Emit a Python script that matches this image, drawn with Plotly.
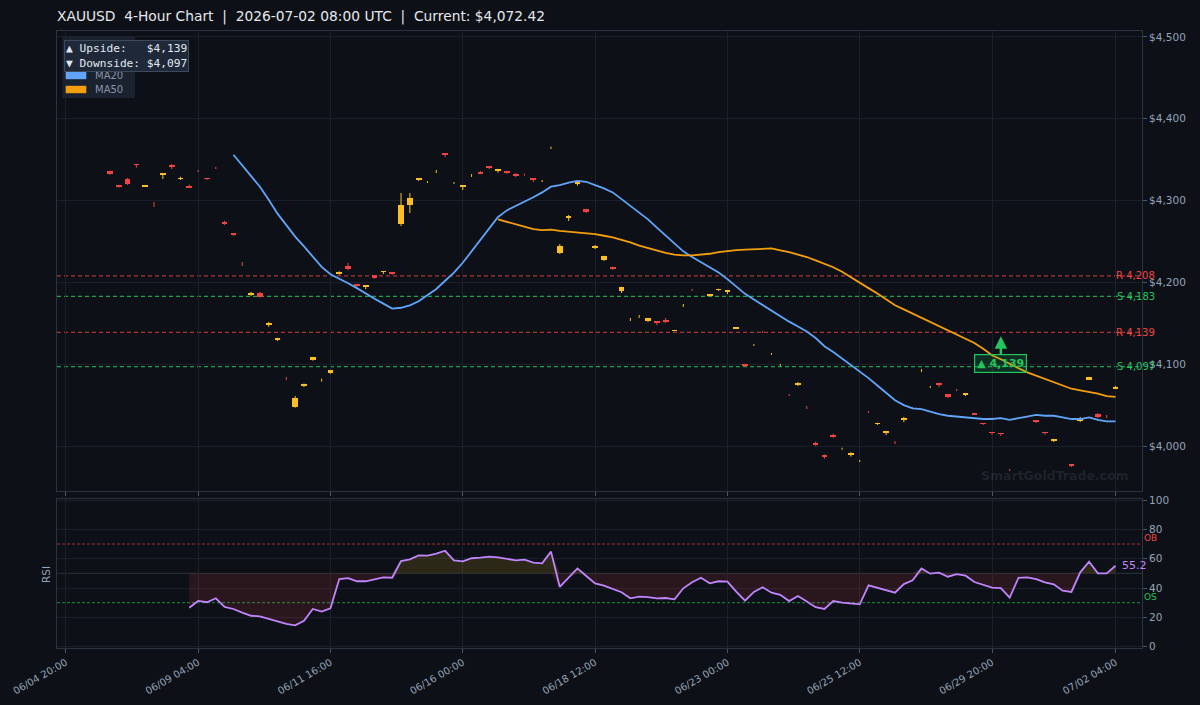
import plotly.graph_objects as go
from plotly.subplots import make_subplots

# ---------------- DATA ----------------
tick_idx = [0, 15, 30, 45, 60, 75, 90, 105, 119]
tick_text = ["06/04 20:00", "06/09 04:00", "06/11 16:00", "06/16 00:00", "06/18 12:00",
             "06/23 00:00", "06/25 12:00", "06/29 20:00", "07/02 04:00"]
price_ticks = [4000, 4100, 4200, 4300, 4400, 4500]
price_tick_text = ["$4,000", "$4,100", "$4,200", "$4,300", "$4,400", "$4,500"]
rsi_ticks = [0, 20, 40, 60, 80, 100]

N = None
opens = [N, N, N, N, N,
 4336.2, 4319.1, 4326.0, 4344.7, 4317.8, 4295.3, 4331.7, 4342.7, 4326.4, 4317.8,
 4336.3, 4327.6, 4340.0, 4273.8, 4259.5, 4222.6, 4185.8, 4187.0, 4148.8, 4129.6,
 4082.6, 4048.0, 4074.0, 4105.1, 4080.4, 4089.6, 4210.5, 4220.4, 4198.0, 4195.2,
 4208.7, 4212.7, 4211.5, 4271.4, 4294.6, 4325.3, 4322.6, 4335.4, 4357.0, 4321.4,
 4317.0, 4330.6, 4335.0, 4341.1, 4336.6, 4335.0, 4332.5, 4331.7, 4326.4, 4323.9,
 4364.4, 4235.9, 4279.1, 4321.1, 4289.7, 4242.4, 4227.4, 4218.0, 4189.5, 4154.5,
 4158.2, 4152.8, 4151.9, 4154.0, 4140.6, 4171.6, 4190.8, 4208.3, 4183.4, 4190.7,
 4188.3, 4143.9, 4100.3, 4123.4, 4139.5, 4112.4, 4098.9, 4062.5, 4075.4, 4047.1,
 4003.7, 3989.4, 4013.4, 3996.6, 3989.4, 3981.5, 4041.6, 4026.9, 4015.9, 4004.3,
 4031.8, 4046.5, 4092.2, 4072.0, 4077.0, 4063.6, 4068.5, 4062.4, 4040.3, 4028.1,
 4017.1, 4015.9, 3970.7, 4034.3, 4035.5, 4030.6, 4017.1, 4006.1, N, 3976.8,
 4031.5, 4081.9, 4039.1, 4036.1, 4070.2]
highs = [N, N, N, N, N,
 4336.5, 4319.3, 4327.6, 4344.9, 4319.2, 4298.3, 4333.0, 4344.7, 4329.2, 4319.5,
 4337.4, 4327.8, 4341.1, 4275.4, 4259.7, 4224.9, 4188.3, 4188.3, 4151.6, 4132.2,
 4084.3, 4061.1, 4076.2, 4108.9, 4082.3, 4093.0, 4213.5, 4223.7, 4198.2, 4196.5,
 4208.9, 4214.0, 4211.7, 4309.3, 4309.3, 4326.5, 4323.9, 4337.4, 4357.2, 4322.7,
 4319.1, 4332.5, 4336.2, 4342.3, 4338.8, 4335.2, 4333.7, 4332.9, 4326.6, 4325.2,
 4365.9, 4246.9, 4282.4, 4322.8, 4289.9, 4245.7, 4232.5, 4219.2, 4194.6, 4156.5,
 4160.1, 4156.7, 4152.1, 4156.5, 4142.0, 4173.6, 4191.9, 4209.4, 4184.8, 4192.1,
 4189.7, 4145.3, 4100.5, 4124.7, 4140.6, 4113.7, 4100.3, 4063.6, 4078.2, 4048.9,
 4005.3, 3989.6, 4015.0, 3997.9, 3992.3, 3982.9, 4042.8, 4028.3, 4018.5, 4006.1,
 4035.5, 4047.7, 4094.1, 4073.4, 4077.2, 4063.8, 4069.7, 4063.8, 4040.5, 4028.3,
 4017.3, 4016.1, 3971.9, 4035.5, 4036.7, 4030.8, 4017.3, 4008.8, N, 3977.0,
 4035.5, 4084.5, 4040.3, 4037.9, 4073.6]
lows = [N, N, N, N, N,
 4331.7, 4315.8, 4319.1, 4340.2, 4316.6, 4292.2, 4326.4, 4338.6, 4325.2, 4315.4,
 4335.0, 4325.2, 4338.6, 4270.2, 4257.1, 4220.0, 4183.4, 4181.3, 4145.8, 4128.4,
 4080.7, 4046.8, 4072.1, 4104.3, 4078.6, 4088.4, 4209.5, 4214.8, 4194.4, 4191.6,
 4204.5, 4210.3, 4209.1, 4268.9, 4284.8, 4324.0, 4321.5, 4333.7, 4353.3, 4320.3,
 4313.0, 4328.9, 4332.5, 4338.6, 4334.1, 4332.5, 4328.9, 4330.4, 4322.7, 4322.7,
 4363.1, 4234.7, 4275.1, 4318.2, 4284.8, 4240.8, 4226.2, 4215.2, 4187.0, 4152.8,
 4156.5, 4151.6, 4147.9, 4150.4, 4140.4, 4169.9, 4189.5, 4207.0, 4183.2, 4189.5,
 4185.8, 4143.0, 4096.6, 4122.3, 4138.1, 4111.3, 4097.8, 4061.1, 4073.4, 4045.2,
 4000.4, 3984.5, 4010.1, 3995.5, 3987.0, 3980.4, 4040.3, 4025.7, 4013.4, 4002.4,
 4029.3, 4045.2, 4090.5, 4070.9, 4072.1, 4058.7, 4067.2, 4061.1, 4037.9, 4025.7,
 4013.8, 4012.2, 3969.4, 4033.0, 4034.2, 4028.1, 4013.8, 4004.9, N, 3974.3,
 4029.3, 4080.7, 4034.2, 4034.2, 4069.7]
closes = [N, N, N, N, N,
 4332.9, 4316.6, 4320.0, 4343.6, 4319.0, 4295.1, 4332.9, 4341.4, 4327.6, 4316.6,
 4336.1, 4326.5, 4339.8, 4272.2, 4258.3, 4222.4, 4187.0, 4182.5, 4150.0, 4132.0,
 4082.4, 4059.1, 4075.2, 4108.8, 4080.6, 4092.9, 4212.5, 4216.4, 4195.6, 4196.4,
 4205.7, 4213.9, 4210.3, 4294.6, 4303.2, 4326.4, 4322.8, 4335.6, 4355.8, 4321.6,
 4318.7, 4330.8, 4333.7, 4339.9, 4338.6, 4333.8, 4330.9, 4331.5, 4325.2, 4324.1,
 4364.6, 4244.5, 4281.2, 4322.7, 4285.7, 4244.5, 4232.3, 4216.7, 4194.4, 4154.7,
 4158.4, 4156.5, 4150.4, 4151.6, 4141.8, 4171.8, 4190.6, 4208.1, 4184.6, 4191.9,
 4189.5, 4145.1, 4099.0, 4123.6, 4139.3, 4112.6, 4099.1, 4062.3, 4077.0, 4046.9,
 4002.4, 3986.6, 4011.4, 3996.8, 3990.6, 3981.7, 4041.4, 4028.1, 4018.3, 4004.1,
 4033.4, 4046.3, 4092.4, 4072.2, 4074.6, 4059.9, 4068.3, 4063.6, 4039.1, 4026.9,
 4015.9, 4014.7, 3970.5, 4034.1, 4035.3, 4029.4, 4015.9, 4008.6, N, 3975.6,
 4033.0, 4084.3, 4035.5, 4035.9, 4072.4]

ma20_start = 19
ma20 = [4356, 4343, 4330, 4317, 4301, 4284, 4270, 4256, 4244, 4231,
        4219, 4210, 4205, 4199, 4193, 4186, 4180, 4174, 4168, 4169,
        4172, 4177, 4184, 4192, 4202, 4212, 4224, 4238, 4253, 4267,
        4280, 4288, 4293, 4298, 4304, 4310, 4317, 4319, 4322, 4324,
        4323, 4319, 4315, 4310, 4302, 4294, 4286, 4277, 4267, 4257,
        4247, 4238, 4231, 4225, 4219, 4212, 4204, 4195, 4186, 4179,
        4172, 4165, 4158, 4152, 4146, 4140, 4132, 4122, 4115, 4107,
        4100, 4092, 4083, 4074, 4065, 4056, 4050, 4046, 4045, 4042,
        4039, 4037, 4036, 4035, 4034, 4033, 4033, 4034, 4032, 4034,
        4036, 4038, 4037, 4037, 4035, 4033, 4033, 4035, 4032, 4030, 4030]
ma50_start = 49
ma50 = [4277, 4274, 4271, 4268, 4265, 4264, 4264.5, 4263, 4262, 4261.5,
        4260.5, 4259, 4257, 4255, 4252, 4249, 4245, 4242, 4239, 4236,
        4234, 4233, 4233, 4234, 4235, 4237, 4238.5, 4239.5, 4240, 4240.5,
        4241, 4241.5, 4239, 4237, 4234, 4231, 4227, 4223, 4218.5, 4213,
        4206, 4199.5, 4193, 4186.5, 4179, 4172, 4167, 4162, 4157, 4151,
        4146, 4141, 4136, 4131, 4126, 4119, 4111, 4106, 4100, 4095,
        4090, 4086, 4082, 4078, 4074, 4070, 4068, 4066, 4064, 4061, 4060]
rsi_start = 14
rsi = [26.6, 31.2, 30.3, 33.0, 27.1, 25.7, 23.2, 21.1, 20.7, 18.9,
       17.5, 15.5, 14.6, 17.7, 25.7, 23.9, 26.2, 46.1, 46.8, 44.6,
       44.6, 45.9, 47.3, 47.0, 58.4, 59.6, 62.3, 62.1, 63.4, 65.4,
       58.9, 58.2, 60.3, 60.7, 61.4, 60.9, 60.0, 58.9, 59.3, 57.3,
       56.8, 64.8, 40.7, 47.0, 53.4, 48.2, 43.2, 41.6, 39.5, 37.1,
       33.0, 34.1, 33.8, 33.0, 33.2, 32.3, 39.8, 43.9, 47.0, 43.2,
       44.6, 44.3, 37.5, 31.4, 37.3, 40.5, 36.8, 35.4, 31.1, 34.5,
       30.8, 26.9, 25.7, 31.1, 30.0, 29.6, 28.9, 41.8, 40.3, 38.5,
       36.8, 42.7, 45.2, 53.4, 49.8, 50.5, 47.7, 49.5, 48.4, 44.1,
       42.0, 40.3, 40.0, 33.4, 47.0, 47.3, 46.1, 43.9, 42.5, 38.2,
       37.3, 50.7, 58.0, 50.0, 50.0, 55.2]

level_kind = ["R", "S", "R", "S"]
level_price = [4208, 4183, 4139, 4097]
upside_target = 4139
downside_target = 4097
target_bar = 106
current_price = 4072.42
title_text = "XAUUSD\u00a0 4-Hour Chart\u00a0 |\u00a0 2026-07-02 08:00 UTC\u00a0 |\u00a0 Current: $4,072.42"

# ---------------- STYLE ----------------
BG = "#0d1117"
FRAME = "#2a3342"
GRID = "#1a202b"
TICKC = "#4b5565"
LABEL = "#94a3b8"
BULL = "#fbbf24"
BEAR = "#ef4444"
C_MA20 = "#60a5fa"
C_MA50 = "#f59e0b"
C_RSI = "#c084fc"
GREEN = "#22c55e"
FONT = "DejaVu Sans"

L_PX, R_PX, T_PX, B_PX = 57, 58, 31, 57
W, H = 1200, 705
PW = W - L_PX - R_PX
PH = H - T_PX - B_PX


def px_x(px):
    return (px - L_PX) / PW


def px_y(py):
    return (H - B_PX - py) / PH


fig = make_subplots(rows=2, cols=1, shared_xaxes=True, vertical_spacing=0.0)

# ---- candles (wicks + bodies) ----
wx = {True: [], False: []}
wy = {True: [], False: []}
bx = {True: [], False: []}
bb = {True: [], False: []}
bh = {True: [], False: []}
for i in range(len(opens)):
    o, h, l, c = opens[i], highs[i], lows[i], closes[i]
    if o is None:
        continue
    up = c >= o
    wx[up] += [i, i, None]
    wy[up] += [l, h, None]
    if abs(c - o) >= 0.5:
        bx[up].append(i)
        bb[up].append(min(o, c))
        bh[up].append(abs(c - o))

for up, col in [(True, BULL), (False, BEAR)]:
    fig.add_trace(go.Scatter(x=wx[up], y=wy[up], mode="lines", line=dict(color=col, width=1),
                             hoverinfo="skip", connectgaps=False), row=1, col=1)
for up, col in [(True, BULL), (False, BEAR)]:
    fig.add_trace(go.Bar(x=bx[up], y=bh[up], base=bb[up], width=0.65,
                         marker=dict(color=col, line=dict(width=0)), hoverinfo="skip"), row=1, col=1)

fig.add_trace(go.Scatter(x=list(range(ma20_start, ma20_start + len(ma20))), y=ma20, mode="lines",
                         line=dict(color=C_MA20, width=1.8), name="MA20"), row=1, col=1)
fig.add_trace(go.Scatter(x=list(range(ma50_start, ma50_start + len(ma50))), y=ma50, mode="lines",
                         line=dict(color=C_MA50, width=1.8), name="MA50"), row=1, col=1)

# ---- RSI ----
rx = list(range(rsi_start, rsi_start + len(rsi)))
base50 = [50] * len(rsi)
above = [max(v, 50) for v in rsi]
below = [min(v, 50) for v in rsi]
fig.add_trace(go.Scatter(x=rx, y=base50, mode="lines", line=dict(width=0), hoverinfo="skip"), row=2, col=1)
fig.add_trace(go.Scatter(x=rx, y=above, mode="lines", line=dict(width=0), fill="tonexty",
                         fillcolor="rgba(250,204,21,0.13)", hoverinfo="skip"), row=2, col=1)
fig.add_trace(go.Scatter(x=rx, y=base50, mode="lines", line=dict(width=0), hoverinfo="skip"), row=2, col=1)
fig.add_trace(go.Scatter(x=rx, y=below, mode="lines", line=dict(width=0), fill="tonexty",
                         fillcolor="rgba(239,68,68,0.13)", hoverinfo="skip"), row=2, col=1)
fig.add_trace(go.Scatter(x=rx, y=rsi, mode="lines", line=dict(color=C_RSI, width=1.8), name="RSI"),
              row=2, col=1)

# ---- axes ----
common = dict(showline=True, mirror=True, linecolor=FRAME, linewidth=1, gridcolor=GRID, gridwidth=1,
              zeroline=False, ticks="outside", ticklen=4, tickcolor=TICKC, tickwidth=1, automargin=False)
fig.update_xaxes(range=[-1, 122], tickmode="array", tickvals=tick_idx, ticktext=tick_text, **common)
fig.update_xaxes(showticklabels=False, row=1, col=1)
fig.update_xaxes(tickangle=-30, tickfont=dict(size=10, color=LABEL, family=FONT), row=2, col=1)
fig.update_yaxes(side="right", **common)
fig.update_yaxes(domain=[px_y(491), 1], range=[3945, 4507.3], tickmode="array", tickvals=price_ticks,
                 ticktext=price_tick_text, tickfont=dict(size=10.5, color=LABEL, family=FONT), row=1, col=1)
fig.update_yaxes(domain=[0, px_y(499)], range=[-0.9, 100.7], tickmode="array", tickvals=rsi_ticks,
                 tickfont=dict(size=10.5, color=LABEL, family=FONT), row=2, col=1)

shapes = []
annotations = []

# support / resistance lines
for k, p in zip(level_kind, level_price):
    col = "rgba(239,68,68,0.7)" if k == "R" else "rgba(34,197,94,0.8)"
    tcol = BEAR if k == "R" else GREEN
    shapes.append(dict(type="line", xref="paper", x0=0, x1=1, yref="y", y0=p, y1=p,
                       line=dict(color=col, width=1.2, dash="4px,3px"), layer="below"))
    annotations.append(dict(xref="paper", x=1, xanchor="right", xshift=15, yref="y", y=p, yanchor="middle",
                            text=f"{k} {p:,}", showarrow=False, font=dict(size=10, color=tcol, family=FONT)))

# RSI guide lines
shapes.append(dict(type="line", xref="paper", x0=0, x1=1, yref="y2", y0=70, y1=70,
                   line=dict(color="rgba(239,68,68,0.65)", width=1, dash="3px,2px"), layer="below"))
shapes.append(dict(type="line", xref="paper", x0=0, x1=1, yref="y2", y0=30, y1=30,
                   line=dict(color="rgba(34,197,94,0.7)", width=1, dash="3px,2px"), layer="below"))
shapes.append(dict(type="line", xref="paper", x0=0, x1=1, yref="y2", y0=50, y1=50,
                   line=dict(color="rgba(148,163,184,0.22)", width=1), layer="below"))
annotations.append(dict(xref="paper", x=1, xanchor="left", yref="y2", y=70, yanchor="middle", yshift=6,
                        text="OB", showarrow=False, font=dict(size=9, color=BEAR, family=FONT)))
annotations.append(dict(xref="paper", x=1, xanchor="left", yref="y2", y=30, yanchor="middle", yshift=6,
                        text="OS", showarrow=False, font=dict(size=9, color=GREEN, family=FONT)))
annotations.append(dict(xref="x2", x=rx[-1], xanchor="left", xshift=4, yref="y2", y=rsi[-1], yanchor="middle",
                        text=f"{rsi[-1]:.1f}", showarrow=False, font=dict(size=11, color=C_RSI, family=FONT)))
annotations.append(dict(xref="paper", x=px_x(46), xanchor="center", yref="paper", y=px_y(575),
                        yanchor="middle", text="RSI", textangle=-90,
                        showarrow=False, font=dict(size=10.5, color=LABEL, family=FONT)))

# watermark
annotations.append(dict(xref="paper", x=px_x(1131), xanchor="right", yref="paper", y=px_y(476),
                        yanchor="middle", text="<b>SmartGoldTrade.com</b>", showarrow=False,
                        font=dict(size=12.5, color="rgba(148,163,184,0.13)", family=FONT)))

# target arrow annotation
annotations.append(dict(xref="x", x=target_bar, yref="y", y=upside_target, text=f"<b>▲ {upside_target:,}</b>",
                        showarrow=True, arrowhead=2, arrowsize=1, arrowwidth=2.5, arrowcolor=GREEN,
                        ax=0, ay=31, standoff=4, bgcolor="rgba(34,197,94,0.16)", bordercolor=GREEN,
                        borderwidth=1.2, borderpad=2, font=dict(size=11, color=GREEN, family=FONT)))

# manual legend
shapes.append(dict(type="rect", xref="paper", yref="paper", x0=px_x(62.3), x1=px_x(135),
                   y0=px_y(98), y1=px_y(36), fillcolor="#1a2230", line=dict(width=0), layer="above"))
leg_names = ["Bullish", "Bearish", "MA20", "MA50"]
leg_cols = [BULL, BEAR, C_MA20, C_MA50]
leg_y = [47, 61, 75.5, 89.5]
for nm, cl, yy in zip(leg_names, leg_cols, leg_y):
    shapes.append(dict(type="rect", xref="paper", yref="paper", x0=px_x(65.7), x1=px_x(86.3),
                       y0=px_y(yy + 3.7), y1=px_y(yy - 3.7), fillcolor=cl, line=dict(width=0), layer="above"))
    annotations.append(dict(xref="paper", x=px_x(92.5), xanchor="left", yref="paper", y=px_y(yy),
                            yanchor="middle", text=nm, showarrow=False,
                            font=dict(size=10, color="#8b95a5", family=FONT)))

# upside / downside box
annotations.append(dict(xref="paper", x=px_x(64), xanchor="left", yref="paper", y=px_y(39.5), yanchor="top",
                        align="left", showarrow=False,
                        text=f"▲ Upside:\u00a0\u00a0\u00a0${upside_target:,}<br>▼ Downside:\u00a0${downside_target:,}",
                        bgcolor="#1e2838", bordercolor="#3c4a5e", borderwidth=1, borderpad=1,
                        font=dict(size=11.2, color="#e2e8f0", family="DejaVu Sans Mono")))

fig.update_layout(
    width=W, height=H,
    margin=dict(l=L_PX, r=R_PX, t=T_PX, b=B_PX, autoexpand=False),
    paper_bgcolor=BG, plot_bgcolor=BG,
    barmode="overlay", bargap=0, showlegend=False,
    font=dict(family=FONT, color=LABEL, size=10),
    title=dict(text=title_text, x=L_PX / W, xanchor="left", xref="container",
               y=1 - 16 / H, yanchor="middle", font=dict(size=13.8, color="#e5e7eb", family=FONT)),
    shapes=shapes, annotations=annotations,
    hovermode=False,
)

fig.write_html("out.html")
